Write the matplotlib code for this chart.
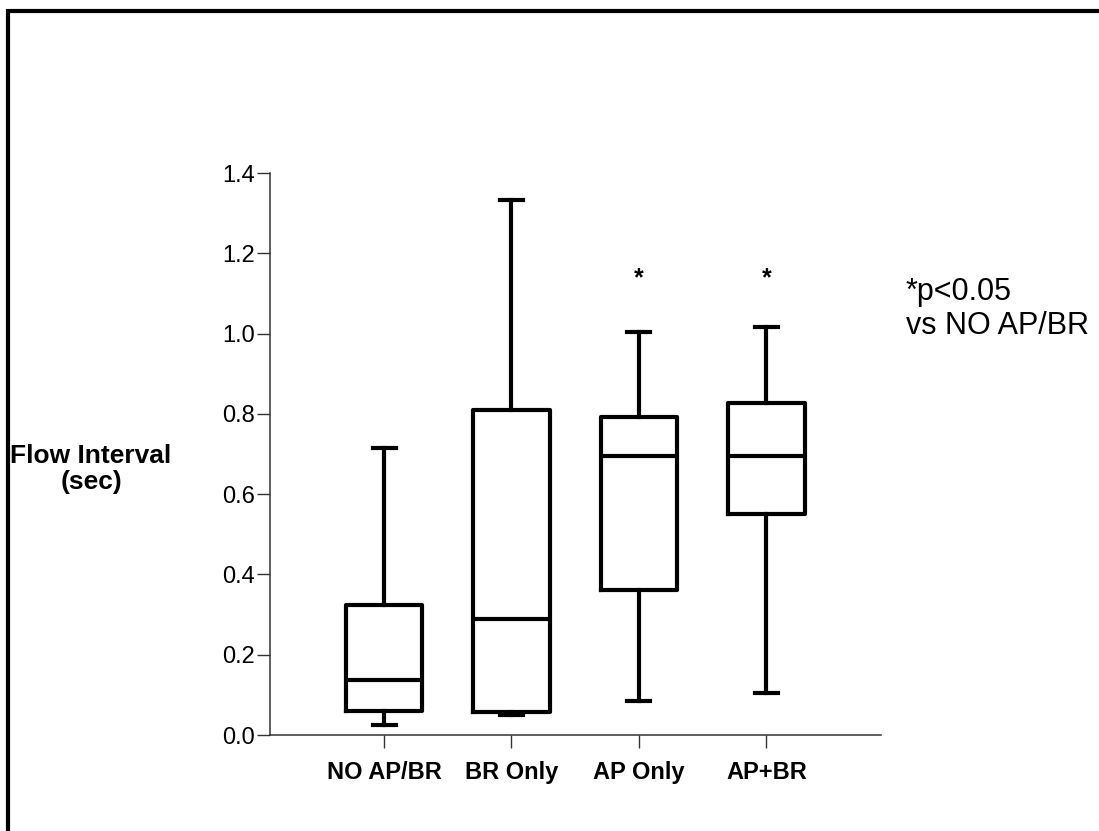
import matplotlib
matplotlib.use("Agg")
import matplotlib.pyplot as plt
from matplotlib.patches import Rectangle

plt.rcParams['font.family'] = ['Liberation Sans', 'DejaVu Sans']

# box plot summary
groups = ["NO AP/BR", "BR Only", "AP Only", "AP+BR"]
whis_lo = [0.025, 0.050, 0.084, 0.105]
q1 = [0.060, 0.058, 0.362, 0.551]
median = [0.138, 0.289, 0.694, 0.694]
q3 = [0.325, 0.809, 0.791, 0.828]
whis_hi = [0.715, 1.332, 1.005, 1.016]
significant = [False, False, True, True]
star_y = 1.138

stats = []
for i, g in enumerate(groups):
    stats.append(dict(label=g, whislo=whis_lo[i], q1=q1[i], med=median[i],
                      q3=q3[i], whishi=whis_hi[i], fliers=[]))

fig = plt.figure(figsize=(10.99, 8.31), dpi=100)
ax = fig.add_axes([270 / 1099, 1 - 735 / 831, (881 - 270) / 1099, (735 - 173) / 831])

positions = list(range(1, len(groups) + 1))
lw = 3.0
ax.bxp(stats, positions=positions, widths=0.6, showfliers=False,
       boxprops=dict(color='black', linewidth=lw),
       medianprops=dict(color='black', linewidth=lw),
       whiskerprops=dict(color='black', linewidth=lw),
       capprops=dict(color='black', linewidth=lw),
       capwidths=0.18)

for p, sig in zip(positions, significant):
    if sig:
        ax.text(p, star_y, "*", ha='center', va='center', fontsize=18, fontweight='bold')

ax.set_xlim(0.105, 4.9)
ax.set_ylim(0, 1.4)
ax.set_yticks([0.0, 0.2, 0.4, 0.6, 0.8, 1.0, 1.2, 1.4])
ax.set_yticklabels([f"{v:.1f}" for v in ax.get_yticks()], fontsize=17)
ax.set_xticks(positions)
ax.set_xticklabels(groups, fontsize=17, fontweight='bold')

for s in ['top', 'right']:
    ax.spines[s].set_visible(False)
for s in ['left', 'bottom']:
    ax.spines[s].set_color('#333333')
    ax.spines[s].set_linewidth(1.1)
ax.tick_params(axis='y', direction='out', length=9.5, width=1, color='#333333', pad=1.5)
ax.tick_params(axis='x', direction='out', length=9.5, width=1, color='#333333', pad=9)

fig.text(91 / 1099, 1 - 469 / 831, "Flow Interval\n(sec)", ha='center', va='center',
         fontsize=19, fontweight='bold', multialignment='center', linespacing=1.1)
fig.text(906 / 1099, 1 - 309 / 831, "*p<0.05\nvs NO AP/BR", ha='left', va='center',
         fontsize=22, linespacing=1.2)

# outer frame (open at right and bottom edges of the picture)
fig.patches.append(Rectangle((8 / 1099, -0.2), 1.5, 1.2 - 11 / 831, transform=fig.transFigure,
                             fill=False, edgecolor='black', linewidth=3, clip_on=False))

fig.savefig("out.png", dpi=100)
